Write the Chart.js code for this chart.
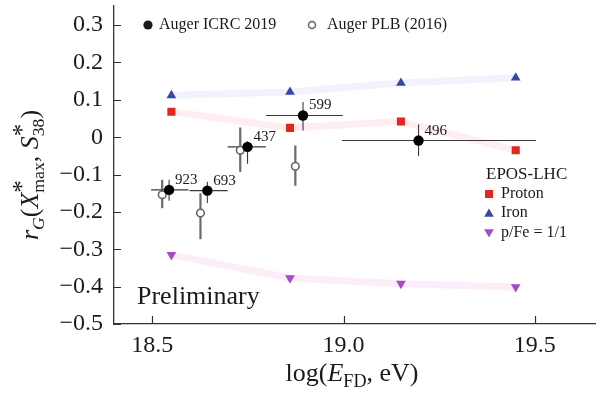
<!DOCTYPE html>
<html>
<head>
<meta charset="utf-8">
<script src="https://cdn.jsdelivr.net/npm/chart.js@4/dist/chart.umd.min.js"></script>
<style>
  html, body { margin: 0; padding: 0; background: #fff; }
  #wrap { width: 601px; height: 399px; position: relative; }
</style>
</head>
<body>
<div id="wrap"><canvas id="c"></canvas></div>
<script>
// ---------- data ----------
const xTicks = [18.5, 19.0, 19.5];
const yTicks = [-0.5, -0.4, -0.3, -0.2, -0.1, 0, 0.1, 0.2, 0.3];

// Auger ICRC 2019 (filled)
const icrcCounts = ['923', '693', '437', '599', '496'];
const icrcX   = [18.544, 18.644, 18.749, 18.894, 19.196];
const icrcY   = [-0.141, -0.143, -0.026, 0.058, -0.009];
const icrcXLo = [18.497, 18.598, 18.697, 18.797, 18.996];
const icrcXHi = [18.595, 18.697, 18.797, 18.998, 19.503];
const icrcYLo = [-0.170, -0.176, -0.071, 0.018, -0.050];
const icrcYHi = [-0.114, -0.119, -0.011, 0.094, 0.034];

// Auger PLB (2016) (open)
const plbX   = [18.526, 18.626, 18.730, 18.874];
const plbY   = [-0.154, -0.203, -0.035, -0.078];
const plbYLo = [-0.190, -0.273, -0.093, -0.130];
const plbYHi = [-0.114, -0.150, 0.026, -0.022];

// EPOS-LHC predictions
const modelX  = [18.55, 18.86, 19.15, 19.45];
const protonY = [0.068, 0.025, 0.042, -0.035];
const ironY   = [0.112, 0.121, 0.145, 0.159];
const mixY    = [-0.315, -0.377, -0.392, -0.401];

// ---------- helpers ----------
const FAM = '"Liberation Serif", "Times New Roman", serif';
const pts = (xs, ys) => xs.map((x, i) => ({ x: x, y: ys[i] }));
const fmtY = v => {
  if (Math.abs(v) < 1e-9) return '0';
  return (v < 0 ? '\u2212' : '') + Math.abs(v).toFixed(1);
};

const C_PROTON = '#e3271d', C_IRON = '#3a46a6', C_MIX = '#a64bc6';

function font(size, italic) { return (italic ? 'italic ' : '') + size + 'px ' + FAM; }
function partWidth(ctx, p, base) {
  if (p.stack) return Math.max(...p.stack.map(q => partWidth(ctx, q, base)));
  ctx.font = font(base * (p.s || 1), p.i);
  return ctx.measureText(p.t).width;
}
function drawRich(ctx, parts, cx, baseY, base) {
  const total = parts.reduce((a, p) => a + partWidth(ctx, p, base), 0);
  let x = cx - total / 2;
  ctx.textBaseline = 'alphabetic';
  ctx.textAlign = 'left';
  for (const p of parts) {
    const w = partWidth(ctx, p, base);
    const list = p.stack ? p.stack : [p];
    for (const q of list) {
      ctx.font = font(base * (q.s || 1), q.i);
      ctx.fillText(q.t, x, baseY + (q.dy || 0) * base);
    }
    x += w;
  }
}

function drawMarker(ctx, style, x, y, r, color) {
  ctx.save();
  ctx.fillStyle = color;
  ctx.beginPath();
  if (style === 'rect') {
    const s = r * Math.SQRT1_2;
    ctx.rect(x - s, y - s, 2 * s, 2 * s);
  } else if (style === 'tri') {
    ctx.moveTo(x, y - r);
    ctx.lineTo(x + r * 0.866, y + r * 0.5);
    ctx.lineTo(x - r * 0.866, y + r * 0.5);
    ctx.closePath();
  } else if (style === 'tridown') {
    ctx.moveTo(x, y + r);
    ctx.lineTo(x + r * 0.866, y - r * 0.5);
    ctx.lineTo(x - r * 0.866, y - r * 0.5);
    ctx.closePath();
  }
  ctx.fill();
  ctx.restore();
}

// ---------- plugins ----------
function drawErrorBars(chart) {
  const ctx = chart.ctx, xs = chart.scales.x, ys = chart.scales.y;
  ctx.save();
  // PLB: thick gray vertical bars
  ctx.strokeStyle = '#6a6a6a';
  ctx.lineWidth = 2.2;
  plbX.forEach((x, i) => {
    const px = xs.getPixelForValue(x);
    ctx.beginPath();
    ctx.moveTo(px, ys.getPixelForValue(plbYLo[i]));
    ctx.lineTo(px, ys.getPixelForValue(plbYHi[i]));
    ctx.stroke();
  });
  // ICRC: thin dark bars
  ctx.strokeStyle = '#3a3a3a';
  ctx.lineWidth = 1.1;
  icrcX.forEach((x, i) => {
    const px = xs.getPixelForValue(x), py = ys.getPixelForValue(icrcY[i]);
    ctx.beginPath();
    ctx.moveTo(xs.getPixelForValue(icrcXLo[i]), py);
    ctx.lineTo(xs.getPixelForValue(icrcXHi[i]), py);
    ctx.moveTo(px, ys.getPixelForValue(icrcYLo[i]));
    ctx.lineTo(px, ys.getPixelForValue(icrcYHi[i]));
    ctx.stroke();
  });
  ctx.restore();
}

const errorBars = {
  id: 'errorBars',
  // drawn after the model bands, just before the PLB points (dataset index 1)
  beforeDatasetDraw(chart, args) {
    if (args.index === 1) drawErrorBars(chart);
  }
};

const decorations = {
  id: 'decorations',
  afterDraw(chart) {
    const ctx = chart.ctx, xs = chart.scales.x, ys = chart.scales.y;
    const area = chart.chartArea;
    ctx.save();
    // inward tick marks
    ctx.strokeStyle = '#333';
    ctx.lineWidth = 1.2;
    ctx.beginPath();
    yTicks.forEach(v => {
      const py = Math.round(ys.getPixelForValue(v)) + 0.5;
      ctx.moveTo(area.left, py); ctx.lineTo(area.left + 7, py);
    });
    xTicks.forEach(v => {
      const px = Math.round(xs.getPixelForValue(v)) + 0.5;
      ctx.moveTo(px, area.bottom); ctx.lineTo(px, area.bottom - 8);
    });
    ctx.stroke();

    ctx.fillStyle = '#1a1a1a';
    // event counts
    ctx.font = font(15, false);
    ctx.textAlign = 'left';
    ctx.textBaseline = 'middle';
    icrcCounts.forEach((t, i) => {
      ctx.fillText(t, xs.getPixelForValue(icrcX[i]) + 6, ys.getPixelForValue(icrcY[i]) - 10);
    });

    // top legend
    ctx.beginPath();
    ctx.arc(148, 25, 4.6, 0, Math.PI * 2);
    ctx.fill();
    ctx.font = font(16, false);
    ctx.fillText('Auger ICRC 2019', 159, 25);
    ctx.beginPath();
    ctx.arc(312, 25, 3.5, 0, Math.PI * 2);
    ctx.fillStyle = '#fff'; ctx.fill();
    ctx.strokeStyle = '#666'; ctx.lineWidth = 1.6; ctx.stroke();
    ctx.fillStyle = '#1a1a1a';
    ctx.fillText('Auger PLB (2016)', 327, 25);

    // model legend
    ctx.font = font(17, false);
    ctx.fillText('EPOS-LHC', 486, 175);
    ctx.font = font(16, false);
    drawMarker(ctx, 'rect', 489, 194, 5.7, C_PROTON);
    ctx.fillText('Proton', 501, 194);
    drawMarker(ctx, 'tri', 489, 214, 5.6, C_IRON);
    ctx.fillText('Iron', 501, 213);
    drawMarker(ctx, 'tridown', 489, 232, 5.6, C_MIX);
    ctx.fillStyle = '#1a1a1a';
    ctx.fillText('p/Fe = 1/1', 501, 233);

    // Preliminary
    ctx.font = font(26, false);
    ctx.fillText('Preliminary', 137, 297);

    // axis titles
    drawRich(ctx, [
      { t: 'log(' }, { t: 'E', i: true }, { t: 'FD', s: 0.7, dy: 0.22 }, { t: ', eV)' }
    ], 352, 381, 26);

    ctx.save();
    ctx.translate(38, 175);
    ctx.rotate(-Math.PI / 2);
    drawRich(ctx, [
      { t: 'r', i: true }, { t: 'G', i: true, s: 0.68, dy: 0.22 }, { t: '(' },
      { t: 'X', i: true },
      { stack: [{ t: '*', s: 0.95, dy: -0.3 }, { t: 'max', s: 0.68, dy: 0.24 }] },
      { t: ', ' }, { t: 'S', i: true },
      { stack: [{ t: '*', s: 0.95, dy: -0.3 }, { t: '38', s: 0.68, dy: 0.24 }] },
      { t: ')' }
    ], 0, 0, 26);
    ctx.restore();

    ctx.restore();
  }
};

const noPad = s => { s.paddingTop = 0; s.paddingBottom = 0; s.paddingLeft = 0; s.paddingRight = 0; };

// ---------- chart ----------
new Chart(document.getElementById('c'), {
  type: 'scatter',
  data: {
    datasets: [
      {
        label: 'Auger ICRC 2019', data: pts(icrcX, icrcY), order: 1,
        pointRadius: 5.2, pointBackgroundColor: '#000', pointBorderWidth: 0
      },
      {
        label: 'Auger PLB (2016)', data: pts(plbX, plbY), order: 2,
        pointRadius: 3.8, pointBackgroundColor: '#fff', pointBorderColor: '#666', pointBorderWidth: 1.6
      },
      {
        label: 'Proton', data: pts(modelX, protonY), order: 3, showLine: true,
        borderColor: 'rgb(254, 238, 240)', borderWidth: 7, tension: 0,
        pointStyle: 'rect', pointRadius: 5.7, pointBackgroundColor: C_PROTON, pointBorderWidth: 0
      },
      {
        label: 'Iron', data: pts(modelX, ironY), order: 4, showLine: true,
        borderColor: 'rgb(242, 242, 253)', borderWidth: 7, tension: 0,
        pointStyle: 'triangle', pointRadius: 5.6, pointBackgroundColor: C_IRON, pointBorderWidth: 0
      },
      {
        label: 'p/Fe = 1/1', data: pts(modelX, mixY), order: 5, showLine: true,
        borderColor: 'rgb(252, 237, 249)', borderWidth: 7, tension: 0,
        pointStyle: 'triangle', pointRotation: 180, pointRadius: 5.6, pointBackgroundColor: C_MIX, pointBorderWidth: 0
      }
    ]
  },
  options: {
    responsive: true,
    maintainAspectRatio: false,
    animation: false,
    events: [],
    layout: { padding: { top: 2, right: 3, left: 0, bottom: 0 } },
    plugins: { legend: { display: false }, tooltip: { enabled: false } },
    scales: {
      x: {
        type: 'linear', min: 18.4, max: 19.658,
        grid: { display: false, drawTicks: false },
        border: { display: true, color: '#333', width: 1.3 },
        afterBuildTicks: s => { s.ticks = xTicks.map(v => ({ value: v })); },
        afterFit: s => { s.height = 75; noPad(s); },
        ticks: {
          padding: 7, color: '#1a1a1a',
          font: { family: FAM, size: 24 },
          callback: v => v.toFixed(1)
        }
      },
      y: {
        type: 'linear', min: -0.5, max: 0.352,
        grid: { display: false, drawTicks: false },
        border: { display: true, color: '#333', width: 1.3 },
        afterBuildTicks: s => { s.ticks = yTicks.map(v => ({ value: v })); },
        afterFit: s => { s.width = 114; noPad(s); },
        ticks: {
          padding: 11, color: '#1a1a1a',
          font: { family: FAM, size: 24 },
          callback: v => fmtY(v)
        }
      }
    }
  },
  plugins: [errorBars, decorations]
});
</script>
</body>
</html>
